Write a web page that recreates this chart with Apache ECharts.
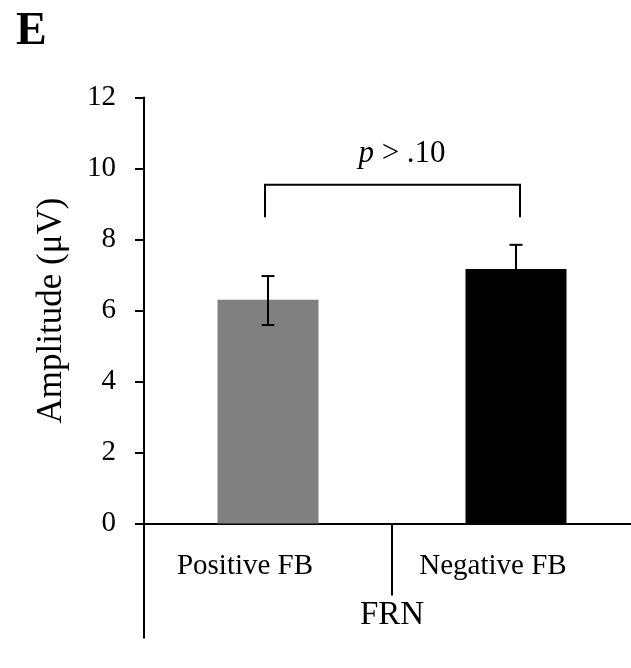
<!DOCTYPE html>
<html>
<head>
<meta charset="utf-8">
<script src="https://cdn.jsdelivr.net/npm/echarts@6/dist/echarts.min.js"></script>
<style>
html,body{margin:0;padding:0;background:#fff;overflow:hidden;width:631px;height:668px;}
#chart{width:640px;height:668px;}
</style>
</head>
<body>
<div id="chart"></div>
<script>
// ---- data ----
const categories = ['Positive FB', 'Negative FB'];
const means = [6.30, 7.17];
const errLow = [5.59, 6.49];
const errHigh = [6.97, 7.85];
const barColors = ['#808080', '#000000'];
const yMin = 0, yMax = 12, yInterval = 2;
const bracketPair = [0, 1];
const bracketLevels = [8.63, 9.54]; // leg bottom, bracket top
const bracketText = 'p > .10';
const groupLabel = 'FRN';
const panelLetter = 'E';
const yTitle = 'Amplitude (μV)';

const FONT = '"Liberation Serif", "Times New Roman", serif';

const chart = echarts.init(document.getElementById('chart'), null, {renderer: 'canvas'});

const option = {
  backgroundColor: '#fff',
  animation: false,
  title: {
    text: panelLetter,
    left: 11, top: 4,
    textStyle: {fontFamily: FONT, fontWeight: 'bold', fontSize: 46, color: '#000'}
  },
  grid: {left: 144, right: 0, top: 97.5, bottom: 144.5, containLabel: false},
  xAxis: {
    type: 'category',
    data: categories,
    boundaryGap: true,
    name: groupLabel,
    nameLocation: 'middle',
    nameGap: 75,
    nameTextStyle: {fontFamily: FONT, fontSize: 33, color: '#000'},
    axisLine: {show: true, onZero: true, lineStyle: {color: '#000', width: 2}},
    axisTick: {show: true, inside: false, length: 72, alignWithLabel: false, lineStyle: {color: '#000', width: 2}},
    axisLabel: {
      show: true, margin: 28, color: '#000',
      fontFamily: FONT, fontSize: 29,
      padding: [0, 46, 0, 0]
    },
    splitLine: {show: false}
  },
  yAxis: {
    type: 'value',
    min: yMin, max: yMax, interval: yInterval,
    name: yTitle,
    nameLocation: 'middle',
    nameGap: 75,
    nameTextStyle: {fontFamily: FONT, fontSize: 35, color: '#000'},
    axisLine: {show: true, lineStyle: {color: '#000', width: 2}},
    axisTick: {show: true, inside: false, length: 9, lineStyle: {color: '#000', width: 2}},
    axisLabel: {margin: 28, color: '#000', fontFamily: FONT, fontSize: 29},
    splitLine: {show: false}
  },
  series: [
    {
      type: 'bar',
      barWidth: 101,
      data: means.map((v, i) => ({value: v, itemStyle: {color: barColors[i]}})),
      z: 2
    },
    {
      type: 'custom',
      z: 5,
      data: categories.map((c, i) => [i, errLow[i], errHigh[i]]),
      renderItem: function (params, api) {
        const x = api.value(0);
        const lo = api.coord([x, api.value(1)]);
        const hi = api.coord([x, api.value(2)]);
        const cap = 6.5;
        const style = {stroke: '#000', lineWidth: 2};
        return {
          type: 'group',
          children: [
            {type: 'line', shape: {x1: lo[0], y1: lo[1], x2: hi[0], y2: hi[1]}, style: style},
            {type: 'line', shape: {x1: hi[0] - cap, y1: hi[1], x2: hi[0] + cap, y2: hi[1]}, style: style},
            {type: 'line', shape: {x1: lo[0] - cap, y1: lo[1], x2: lo[0] + cap, y2: lo[1]}, style: style}
          ]
        };
      }
    },
    {
      type: 'custom',
      z: 5,
      data: [[bracketPair[0], bracketPair[1], bracketLevels[0], bracketLevels[1]]],
      renderItem: function (params, api) {
        const a = api.coord([api.value(0), api.value(3)]);
        const b = api.coord([api.value(1), api.value(3)]);
        const aBot = api.coord([api.value(0), api.value(2)]);
        const bBot = api.coord([api.value(1), api.value(2)]);
        const style = {stroke: '#000', lineWidth: 2, fill: null};
        const parts = bracketText.split(' ');
        return {
          type: 'group',
          children: [
            {type: 'polyline', shape: {points: [[aBot[0] - 3, aBot[1]], [a[0] - 3, a[1]], [b[0] + 4, b[1]], [bBot[0] + 4, bBot[1]]]}, style: style},
            {
              type: 'text',
              x: (a[0] + b[0]) / 2 + 10,
              y: a[1] - 15,
              style: {
                text: '{i|' + parts[0] + '} ' + parts.slice(1).join(' '),
                align: 'center', verticalAlign: 'bottom',
                fontFamily: FONT, fontSize: 31, fill: '#000',
                rich: {i: {fontFamily: FONT, fontSize: 31, fontStyle: 'italic', fill: '#000'}}
              }
            }
          ]
        };
      }
    }
  ]
};

chart.setOption(option);

// extend the left axis line below the category row (Excel multi-level style)
const origin = chart.convertToPixel({gridIndex: 0}, [0, 0]);
const catCenter0 = chart.convertToPixel({xAxisIndex: 0}, 0);
const catCenter1 = chart.convertToPixel({xAxisIndex: 0}, 1);
const leftEdge = catCenter0 - (catCenter1 - catCenter0) / 2;
chart.setOption({
  graphic: [{
    type: 'line',
    shape: {x1: leftEdge, y1: origin[1], x2: leftEdge, y2: origin[1] + 115},
    style: {stroke: '#000', lineWidth: 2}
  }]
});
</script>
</body>
</html>
